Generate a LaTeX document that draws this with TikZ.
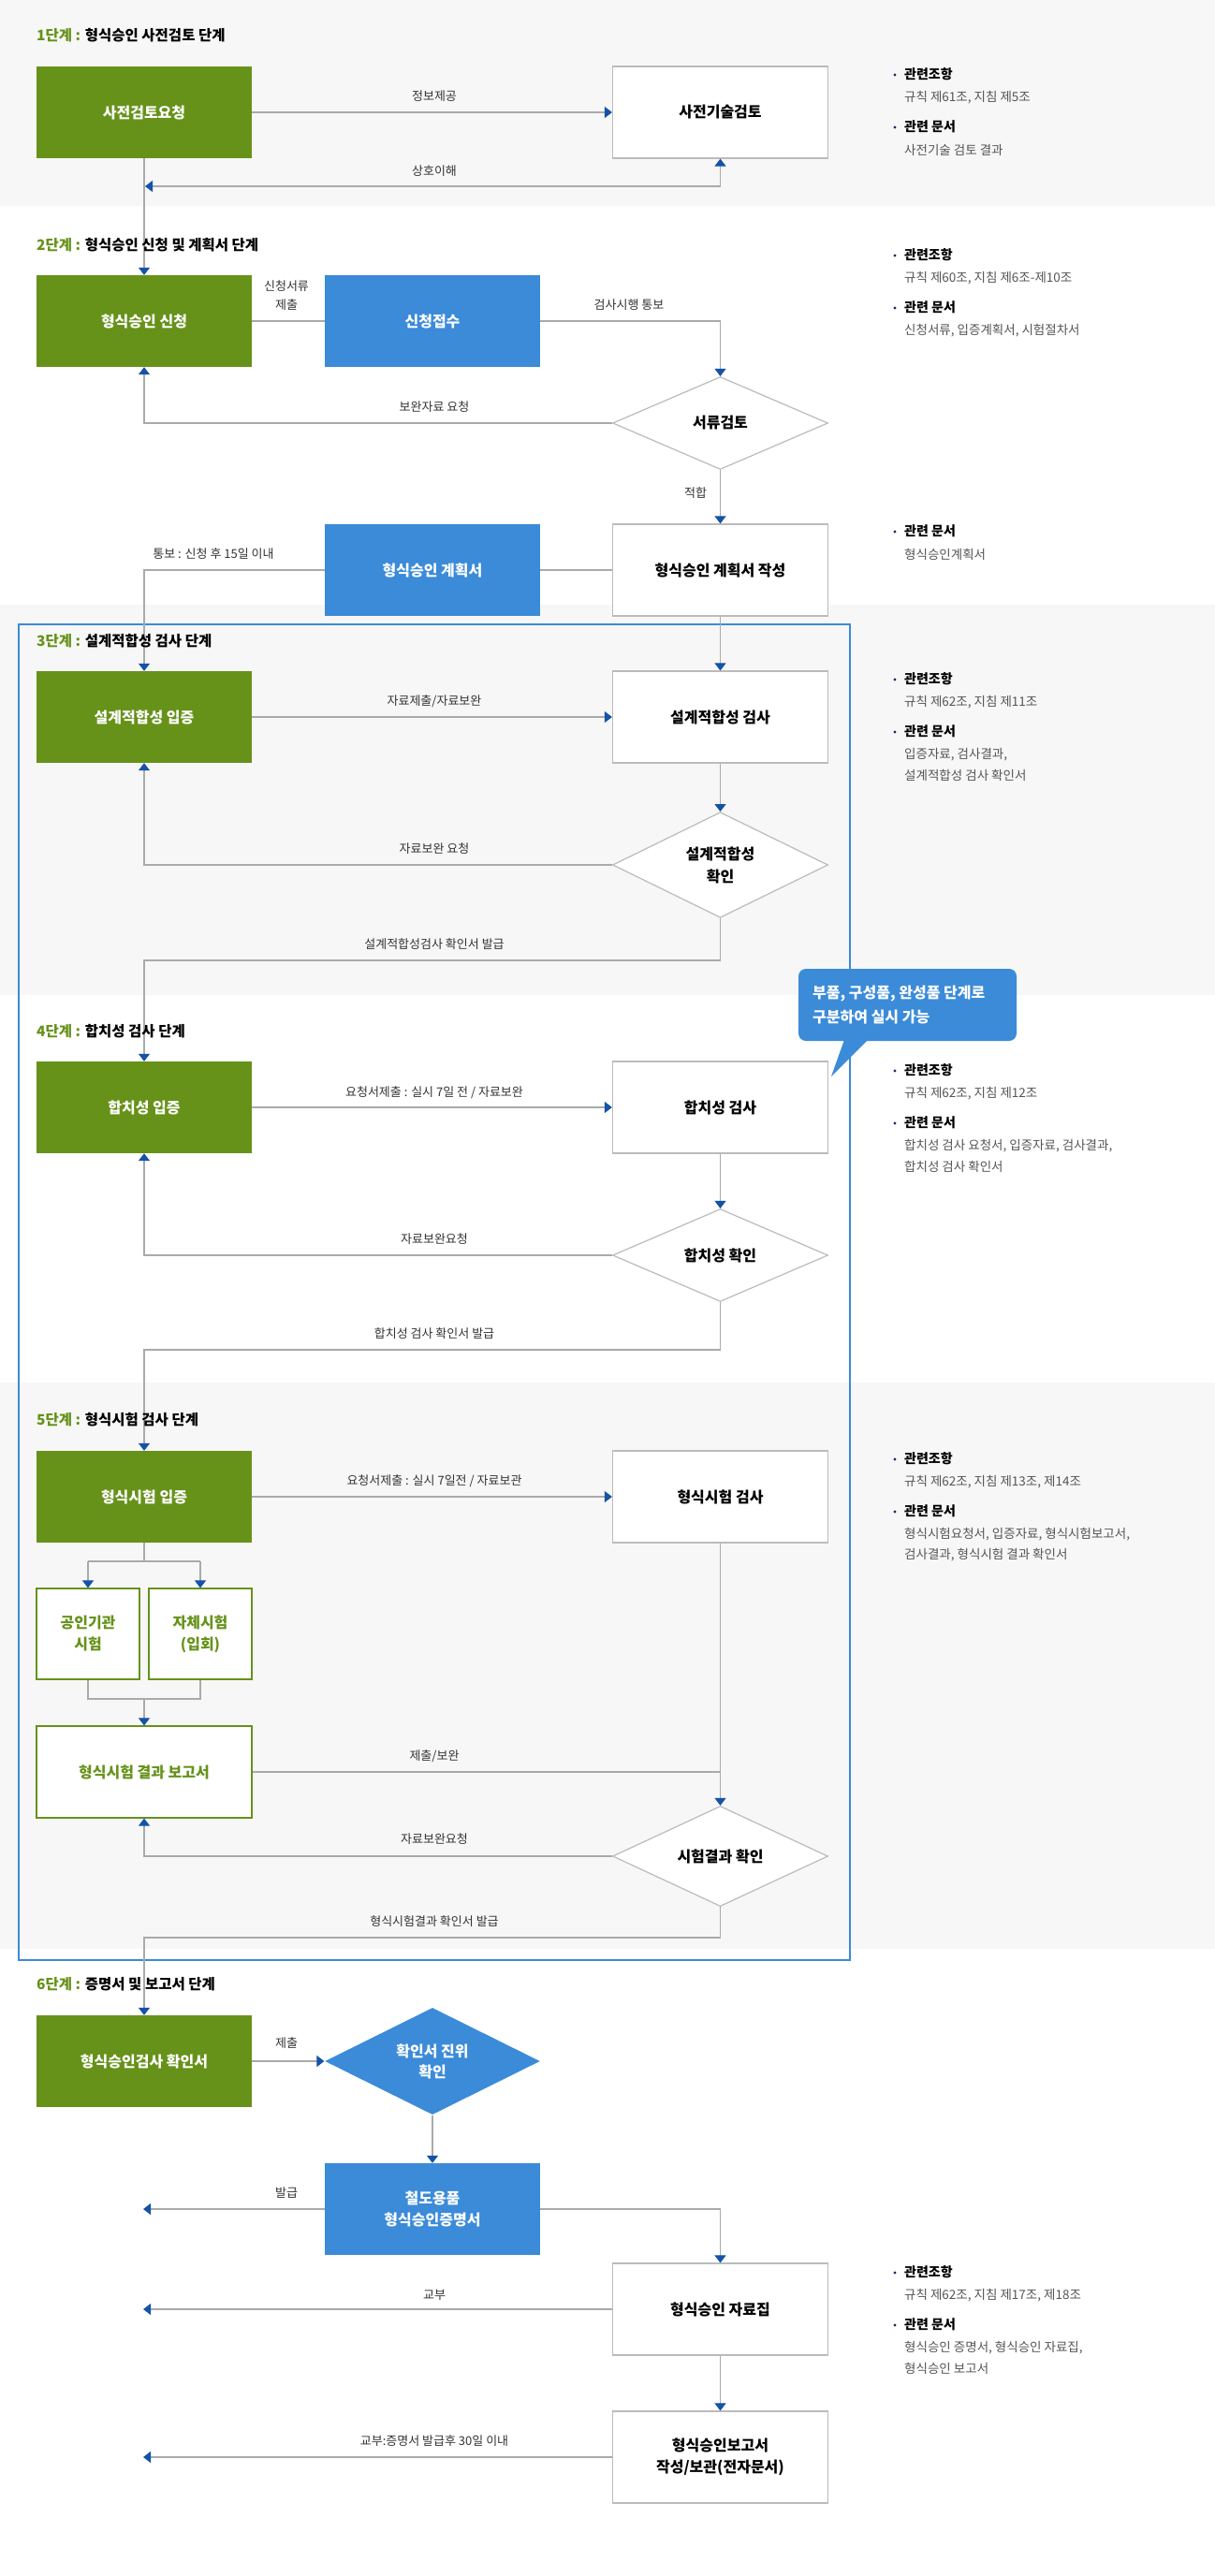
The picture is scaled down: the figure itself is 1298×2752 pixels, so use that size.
\documentclass[tikz,border=0pt]{standalone}
\usepackage{fontspec}
\setmainfont{Noto Sans CJK KR}
\usetikzlibrary{arrows.meta,shapes.geometric,calc}
\definecolor{grn}{HTML}{66921A}
\definecolor{blu}{HTML}{3B8BD9}
\definecolor{bgg}{HTML}{F7F7F7}
\definecolor{lin}{HTML}{AAAAAA}
\definecolor{bdr}{HTML}{BBBBBB}
\definecolor{arrb}{HTML}{1552A8}
\definecolor{txt}{HTML}{333333}
\definecolor{inf}{HTML}{555555}
\definecolor{frm}{HTML}{3A8BD8}
\definecolor{navy}{HTML}{1D2A5A}
\tikzset{
 box/.style={rectangle, minimum width=230pt, minimum height=98pt, inner sep=0pt, align=center, font=\fontsize{16}{23}\selectfont\bfseries},
 gbox/.style={box, fill=grn, text=white},
 wbox/.style={box, fill=white, draw=bdr, line width=1.2pt, text=black},
 bbox/.style={box, fill=blu, text=white},
 obox/.style={box, fill=white, draw=grn, line width=1.2pt, text=grn},
 sbox/.style={obox, minimum width=110pt, minimum height=97pt},
 dia/.style={diamond, minimum width=230pt, minimum height=99pt, inner sep=0pt, fill=white, draw=bdr, line width=1.2pt, align=center, font=\fontsize{16}{24}\selectfont\bfseries},
 conn/.style={draw=lin, line width=1.1pt},
 arr/.style={conn, -{Triangle[length=8pt,width=12pt,color=arrb]}},
 lbl/.style={font=\fontsize{13}{20}\selectfont, text=txt, inner sep=0pt, align=center},
 ttl/.style={anchor=west, font=\fontsize{15.5}{19}\selectfont\bfseries, inner sep=0pt},
 ihead/.style={anchor=west, font=\fontsize{14}{17}\selectfont\bfseries, inner sep=0pt, text=black},
 itext/.style={anchor=west, font=\fontsize{13.5}{17}\selectfont, text=inf, inner sep=0pt},
}
\newcommand\ihd[3]{\fill[navy] (956,#2+1) circle (1.6pt); \node[ihead] (#1) at (966,#2) {#3};}
\newcommand\itx[3]{\node[itext] (#1) at (966,#2) {#3};}
\begin{document}
\begin{tikzpicture}[x=1pt,y=-1pt]
\useasboundingbox (0,0) rectangle (1298,2752);
% backgrounds
\fill[white] (0,0) rectangle (1298,2752);
\fill[bgg] (0,0) rectangle (1298,220);
\fill[bgg] (0,646) rectangle (1298,1063);
\fill[bgg] (0,1477) rectangle (1298,2082);
\draw[frm, line width=2.5pt] (20,667) rectangle (908,2094);

% nodes
\node[gbox] (a1) at (154,120) {사전검토요청};
\node[wbox] (b1) at (769.5,120) {사전기술검토};
\node[gbox] (a2) at (154,343) {형식승인 신청};
\node[bbox] (bl2) at (462,343) {신청접수};
\node[dia] (d2) at (769.5,452) {서류검토};
\node[bbox] (bl2b) at (462,609) {형식승인 계획서};
\node[wbox] (c2) at (769.5,609) {형식승인 계획서 작성};
\node[gbox] (a3) at (154,766) {설계적합성 입증};
\node[wbox] (b3) at (769.5,766) {설계적합성 검사};
\node[dia] (d3) at (769.5,924) {설계적합성\\확인};
\node[gbox] (a4) at (154,1183) {합치성 입증};
\node[wbox] (b4) at (769.5,1183) {합치성 검사};
\node[dia] (d4) at (769.5,1341) {합치성 확인};
\node[gbox] (a5) at (154,1599) {형식시험 입증};
\node[wbox] (b5) at (769.5,1599) {형식시험 검사};
\node[sbox] (s1) at (94,1745.5) {공인기관\\시험};
\node[sbox] (s2) at (214,1745.5) {자체시험\\(입회)};
\node[obox] (a5r) at (154,1893) {형식시험 결과 보고서};
\node[dia] (d5) at (769.5,1983) {시험결과 확인};
\node[gbox] (a6) at (154,2202) {형식승인검사 확인서};
\node[dia, fill=blu, draw=none, text=white, font=\fontsize{16}{22}\selectfont\bfseries] (d6) at (462,2202) {확인서 진위\\확인};
\node[bbox] (bl6) at (462,2360) {철도용품\\형식승인증명서};
\node[wbox] (c6) at (769.5,2467) {형식승인 자료집};
\node[wbox] (e6) at (769.5,2625) {형식승인보고서\\작성/보관(전자문서)};

% free ends
\coordinate (p1) at (155,199);
\coordinate (j14) at (769.5,1026);
\coordinate (k14) at (154,1026);
\coordinate (j18) at (769.5,1442);
\coordinate (k18) at (154,1442);
\coordinate (j20a) at (94,1668);
\coordinate (j20b) at (214,1668);
\coordinate (j20c) at (154,1668);
\coordinate (j21a) at (94,1815);
\coordinate (j21b) at (214,1815);
\coordinate (j21c) at (154,1815);
\coordinate (j23) at (769.5,1893);
\coordinate (j25) at (769.5,2070);
\coordinate (k25) at (154,2070);
\coordinate (e28) at (153,2360);
\coordinate (e30) at (153,2467);
\coordinate (e32) at (153,2625);

% connectors
\draw[arr] (a1.east) -- (b1.west);
\draw[conn, {Triangle[length=8pt,width=12pt,color=arrb]}-{Triangle[length=8pt,width=12pt,color=arrb]}] (p1) -- (769.5,199) -- (b1.south);
\draw[arr] (a1.south) -- (a2.north);
\draw[conn] (a2.east) -- (bl2.west);
\draw[arr] (bl2.east) -| (d2.north);
\draw[arr] (d2.west) -| (a2.south);
\draw[arr] (d2.south) -- (c2.north);
\draw[conn] (c2.west) -- (bl2b.east);
\draw[arr] (bl2b.west) -| (a3.north);
\draw[arr] (c2.south) -- (b3.north);
\draw[arr] (a3.east) -- (b3.west);
\draw[arr] (b3.south) -- (d3.north);
\draw[arr] (d3.west) -| (a3.south);
\draw[arr] (d3.south) -- (j14) -- (k14) -- (a4.north);
\draw[arr] (a4.east) -- (b4.west);
\draw[arr] (b4.south) -- (d4.north);
\draw[arr] (d4.west) -| (a4.south);
\draw[arr] (d4.south) -- (j18) -- (k18) -- (a5.north);
\draw[arr] (a5.east) -- (b5.west);
\draw[conn] (a5.south) -- (j20c);
\draw[conn] (j20a) -- (j20b);
\draw[arr] (j20a) -- (s1.north);
\draw[arr] (j20b) -- (s2.north);
\draw[conn] (s1.south) -- (j21a) -- (j21b) -- (s2.south);
\draw[arr] (j21c) -- (a5r.north);
\draw[arr] (b5.south) -- (d5.north);
\draw[conn] (a5r.east) -- (j23);
\draw[arr] (d5.west) -| (a5r.south);
\draw[arr] (d5.south) -- (j25) -- (k25) -- (a6.north);
\draw[arr] (a6.east) -- (d6.west);
\draw[arr] (d6.south) -- (bl6.north);
\draw[arr] (bl6.west) -- (e28);
\draw[arr] (bl6.east) -| (c6.north);
\draw[arr] (c6.west) -- (e30);
\draw[arr] (c6.south) -- (e6.north);
\draw[arr] (e6.west) -- (e32);

% connector labels
\node[lbl] (l1) at (464,103) {정보제공};
\node[lbl] (l2) at (464,183) {상호이해};
\node[lbl] (l3) at (306,316) {신청서류\\제출};
\node[lbl] (l4) at (672,326) {검사시행 통보};
\node[lbl] (l5) at (464,435) {보완자료 요청};
\node[lbl] (l6) at (743,527) {적합};
\node[lbl] (l7) at (228,592) {통보 : 신청 후 15일 이내};
\node[lbl] (l8) at (464,749) {자료제출/자료보완};
\node[lbl] (l9) at (464,907) {자료보완 요청};
\node[lbl] (l10) at (464,1009) {설계적합성검사 확인서 발급};
\node[lbl] (l11) at (464,1167) {요청서제출 : 실시 7일 전 / 자료보완};
\node[lbl] (l12) at (464,1324) {자료보완요청};
\node[lbl] (l13) at (464,1425) {합치성 검사 확인서 발급};
\node[lbl] (l14) at (464,1582) {요청서제출 : 실시 7일전 / 자료보관};
\node[lbl] (l15) at (464,1876) {제출/보완};
\node[lbl] (l16) at (464,1965) {자료보완요청};
\node[lbl] (l17) at (464,2053) {형식시험결과 확인서 발급};
\node[lbl] (l18) at (306,2183) {제출};
\node[lbl] (l19) at (306,2343) {발급};
\node[lbl] (l20) at (464,2452) {교부};
\node[lbl] (l21) at (464,2608) {교부:증명서 발급후 30일 이내};

% stage titles
\node[ttl] (t1) at (39,38) {\textcolor{grn}{1단계 :} 형식승인 사전검토 단계};
\node[ttl] (t2) at (39,262) {\textcolor{grn}{2단계 :} 형식승인 신청 및 계획서 단계};
\node[ttl] (t3) at (39,685) {\textcolor{grn}{3단계 :} 설계적합성 검사 단계};
\node[ttl] (t4) at (39,1102) {\textcolor{grn}{4단계 :} 합치성 검사 단계};
\node[ttl] (t5) at (39,1517) {\textcolor{grn}{5단계 :} 형식시험 검사 단계};
\node[ttl] (t6) at (39,2120) {\textcolor{grn}{6단계 :} 증명서 및 보고서 단계};

% callout
\fill[blu, rounded corners=8pt] (853,1035) rectangle (1086,1112);
\fill[blu] (903,1108) -- (930,1108) -- (888,1150) -- cycle;
\node[anchor=west, text=white, inner sep=0pt, align=left, font=\fontsize{16}{26}\selectfont\bfseries] (call) at (868,1074) {부품, 구성품, 완성품 단계로\\구분하여 실시 가능};

% right info
\ihd{h1a}{79}{관련조항}
\itx{x1a}{104}{규칙 제61조, 지침 제5조}
\ihd{h1b}{135}{관련 문서}
\itx{x1b}{160}{사전기술 검토 결과}

\ihd{h2a}{272}{관련조항}
\itx{x2a}{297}{규칙 제60조, 지침 제6조-제10조}
\ihd{h2b}{328}{관련 문서}
\itx{x2b}{353}{신청서류, 입증계획서, 시험절차서}

\ihd{h2c}{567}{관련 문서}
\itx{x2c}{592}{형식승인계획서}

\ihd{h3a}{725}{관련조항}
\itx{x3a}{750}{규칙 제62조, 지침 제11조}
\ihd{h3b}{781}{관련 문서}
\itx{x3b}{806}{입증자료, 검사결과,}
\itx{x3c}{828}{설계적합성 검사 확인서}

\ihd{h4a}{1143}{관련조항}
\itx{x4a}{1168}{규칙 제62조, 지침 제12조}
\ihd{h4b}{1199}{관련 문서}
\itx{x4b}{1224}{합치성 검사 요청서, 입증자료, 검사결과,}
\itx{x4c}{1246}{합치성 검사 확인서}

\ihd{h5a}{1558}{관련조항}
\itx{x5a}{1583}{규칙 제62조, 지침 제13조, 제14조}
\ihd{h5b}{1614}{관련 문서}
\itx{x5b}{1639}{형식시험요청서, 입증자료, 형식시험보고서,}
\itx{x5c}{1661}{검사결과, 형식시험 결과 확인서}

\ihd{h6a}{2427}{관련조항}
\itx{x6a}{2452}{규칙 제62조, 지침 제17조, 제18조}
\ihd{h6b}{2483}{관련 문서}
\itx{x6b}{2508}{형식승인 증명서, 형식승인 자료집,}
\itx{x6c}{2530}{형식승인 보고서}
\end{tikzpicture}
\end{document}
